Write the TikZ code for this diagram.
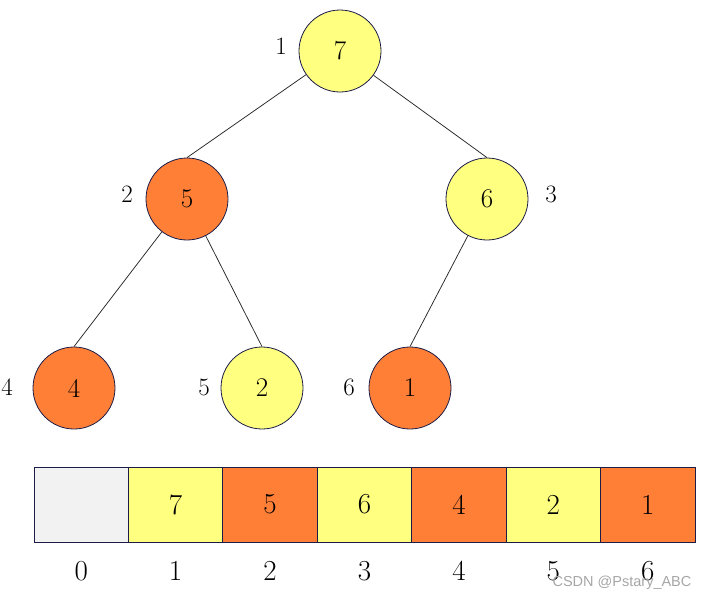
\documentclass[tikz,border=0pt]{standalone}
\usepackage{fontspec}
\newfontfamily\wmfont{Liberation Sans}
\usetikzlibrary{positioning}
\definecolor{heapyellow}{RGB}{255,255,128}
\definecolor{heaporange}{RGB}{255,127,55}
\definecolor{emptygray}{RGB}{242,242,242}
\definecolor{rimblue}{RGB}{28,28,72}
\tikzset{
    heapnode/.style={circle, draw=rimblue, line width=0.8pt, minimum size=82pt, inner sep=0pt, font=\fontsize{27}{30}\selectfont},
    hot/.style={heapnode, fill=heaporange},
    cold/.style={heapnode, fill=heapyellow},
    idx/.style={inner sep=0pt, font=\fontsize{25}{30}\selectfont},
    cell/.style={draw=rimblue, line width=0.9pt, minimum width=94.43pt, minimum height=75pt, inner sep=0pt, font=\fontsize{29}{34}\selectfont},
    link/.style={draw=black!85, line width=0.75pt}
}

\begin{document}
\begin{tikzpicture}[x=1pt, y=-1pt]
    \useasboundingbox (0,0) rectangle (707,600);
    % heap as a tree
    \node[cold] (h1) at (340,51) {7};
    \node[hot]  (h2) at (187,199) {5};
    \node[cold] (h3) at (487,199) {6};
    \node[hot]  (h4) at (74,388) {4};
    \node[cold] (h5) at (262,388) {2};
    \node[hot]  (h6) at (410,388) {1};
    \draw[link] (h1) -- (h2.north);
    \draw[link] (h1) -- (h3.north);
    \draw[link] (h2) -- (h4.north);
    \draw[link] (h2) -- (h5.north);
    \draw[link] (h3) -- (h6.north);
    % positions in the tree
    \node[idx] (p1) at (281,46) {1};
    \node[idx] (p2) at (127,194) {2};
    \node[idx] (p3) at (551,194) {3};
    \node[idx] (p4) at (7,387) {4};
    \node[idx] (p5) at (204,387) {5};
    \node[idx] (p6) at (349,387) {6};
    % heap as an array
    \node[cell, fill=emptygray] (c0) at (34+47.2,504.5) {};
    \foreach \v/\c [count=\i] in {7/heapyellow, 5/heaporange, 6/heapyellow, 4/heaporange, 2/heapyellow, 1/heaporange}
        \node[cell, fill=\c] (c\i) at (34+94.43*\i+47.2,504.5) {\v};
    \foreach \i in {0,...,6}
        \node[idx, font=\fontsize{29}{34}\selectfont] (a\i) at (34+94.43*\i+47.2,571) {\i};
    \node[text=gray!70, font=\wmfont\fontsize{14.5}{16}\selectfont] (wm) at (622,583) {CSDN @Pstary\_ABC};
\end{tikzpicture}
\end{document}
